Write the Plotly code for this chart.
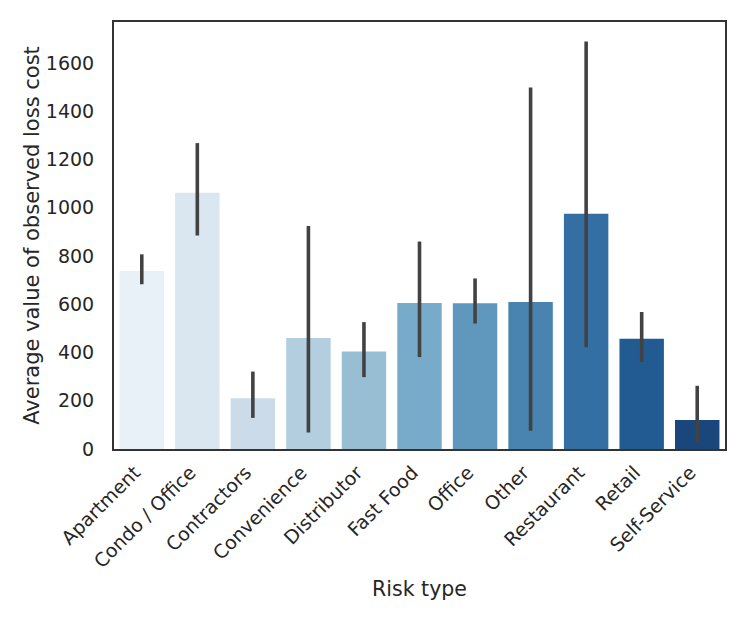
import colorsys
import plotly.graph_objects as go

categories = ["Apartment", "Condo / Office", "Contractors", "Convenience", "Distributor",
              "Fast Food", "Office", "Other", "Restaurant", "Retail", "Self-Service"]
means = [738, 1062, 210, 460, 404, 605, 604, 609, 975, 457, 120]
ci_low = [683, 885, 129, 68, 298, 381, 520, 76, 422, 360, 27]
ci_high = [807, 1268, 321, 924, 526, 860, 707, 1499, 1689, 568, 262]

# seaborn "Blues" palette (11 colours) with saturation 0.75
blues_base = [(230, 240, 250), (214, 230, 244), (198, 219, 239), (171, 208, 230),
              (141, 193, 221), (107, 174, 214), (80, 155, 203), (55, 135, 192),
              (33, 113, 181), (16, 92, 164), (8, 70, 140)]


def desat(rgb, s=0.75):
    h, l, sat = colorsys.rgb_to_hls(*[c / 255 for c in rgb])
    r, g, b = colorsys.hls_to_rgb(h, l, sat * s)
    return "rgb(%d,%d,%d)" % (round(r * 255), round(g * 255), round(b * 255))


colors = [desat(c) for c in blues_base]

err_plus = [h - m for h, m in zip(ci_high, means)]
err_minus = [m - l for m, l in zip(means, ci_low)]

fig = go.Figure(go.Bar(
    x=categories, y=means, width=0.8,
    marker=dict(color=colors, line=dict(width=0)),
    error_y=dict(type="data", symmetric=False, array=err_plus, arrayminus=err_minus,
                 color="#424242", thickness=3.6, width=0),
))

font = "DejaVu Sans, sans-serif"
fig.update_layout(
    width=747, height=623,
    margin=dict(l=106, r=30, t=14, b=182),
    paper_bgcolor="white", plot_bgcolor="white",
    font=dict(family=font, color="#262626", size=18),
    showlegend=False,
)
fig.update_xaxes(
    range=[-0.5, 10.5], tickangle=-45, tickfont=dict(size=19),
    showline=True, mirror=True, linecolor="#333333", linewidth=2,
    showgrid=False, zeroline=False, ticks="", ticklabelstandoff=3,
    ticklabelshift=-7,
    automargin=False,
    title=dict(text="Risk type", font=dict(size=20.5), standoff=11),
)
fig.update_yaxes(
    range=[0, 1770], tickvals=[0, 200, 400, 600, 800, 1000, 1200, 1400, 1600],
    tickfont=dict(size=19),
    showline=True, mirror=True, linecolor="#333333", linewidth=2,
    showgrid=False, zeroline=False, ticks="", ticklabelstandoff=14,
    automargin=False,
    title=dict(text="Average value of observed loss cost", font=dict(size=21), standoff=0),
)

fig.write_html("out.html")
